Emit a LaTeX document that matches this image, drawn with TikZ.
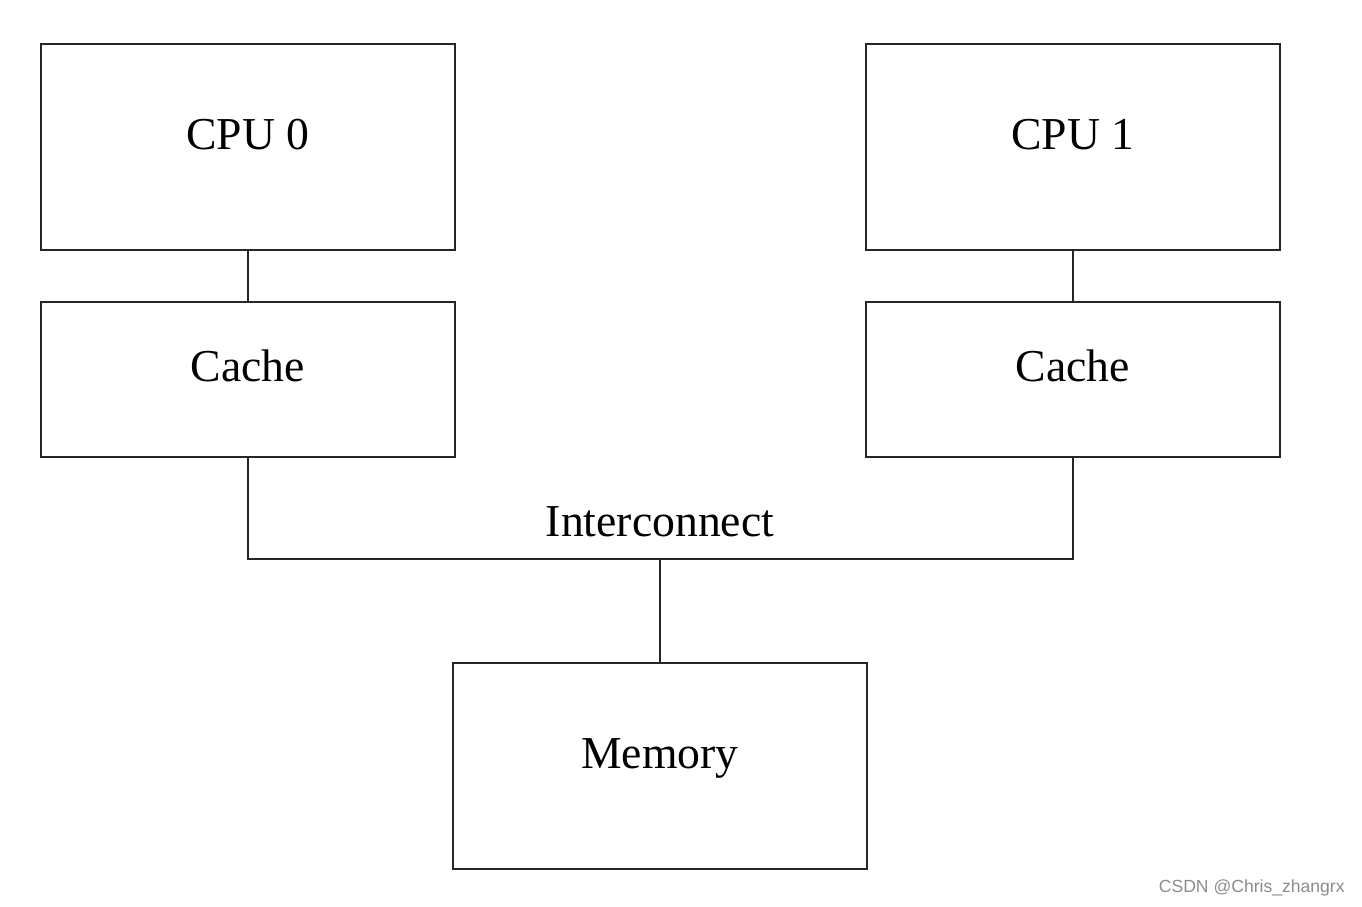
\documentclass[tikz,border=0pt]{standalone}
\usepackage{fontspec}
\setmainfont{Liberation Serif}
\newfontfamily\wmfont{Liberation Sans}
\begin{document}
\begin{tikzpicture}[x=0.02cm,y=-0.02cm,
  blk/.style={draw=black!85,line width=1.1pt,inner sep=0pt},
  lbl/.style={font=\fontsize{26}{30}\selectfont,anchor=base,inner sep=0pt},
  wire/.style={draw=black!85,line width=1.1pt}]
\useasboundingbox (0,0) rectangle (1362,906);
\fill[white] (0,0) rectangle (1362,906);
% boxes
\node[blk,minimum width=414*0.02cm,minimum height=206*0.02cm] (cpu0) at (248,147) {};
\node[blk,minimum width=414*0.02cm,minimum height=155*0.02cm] (cache0) at (248,379.5) {};
\node[blk,minimum width=414*0.02cm,minimum height=206*0.02cm] (cpu1) at (1073,147) {};
\node[blk,minimum width=414*0.02cm,minimum height=155*0.02cm] (cache1) at (1073,379.5) {};
\node[blk,minimum width=414*0.02cm,minimum height=206*0.02cm] (mem) at (660,766) {};
% labels
\node[lbl] (t0) at (248,149) {CPU 0};
\node[lbl] (t1) at (1073,149) {CPU 1};
\node[lbl] (tc0) at (248,381) {Cache};
\node[lbl] (tc1) at (1073,381) {Cache};
\node[lbl] (tm) at (660,768) {Memory};
\node[lbl] (ti) at (660,536) {Interconnect};
% connectors
\coordinate (busL) at (248,559);
\coordinate (busR) at (1073,559);
\coordinate (busM) at (660,559);
\draw[wire] (cpu0.south) -- (cache0.north);
\draw[wire] (cpu1.south) -- (cache1.north);
\draw[wire] (cache0.south) -- (busL) -- (busR) -- (cache1.south);
\draw[wire] (busM) -- (mem.north);
% watermark
\node[font=\wmfont\fontsize{10}{12}\selectfont,text=black!45,anchor=base east,inner sep=0pt] (wm) at (1345,892) {CSDN @Chris\_zhangrx};
\end{tikzpicture}
\end{document}
